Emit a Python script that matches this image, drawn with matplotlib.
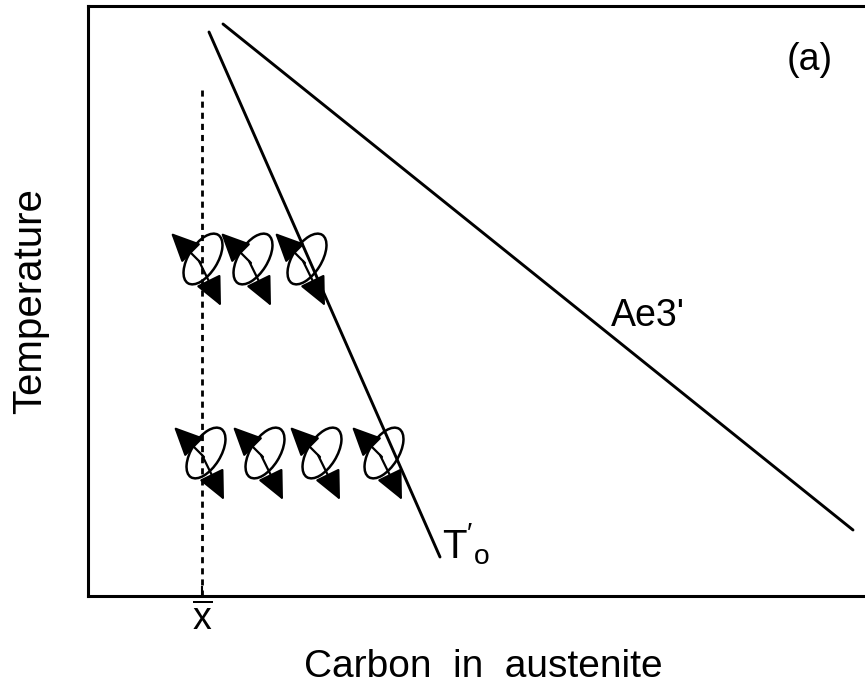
import matplotlib.pyplot as plt
import numpy as np
from matplotlib.patches import Ellipse

plt.rcParams['font.family'] = ['Liberation Sans', 'DejaVu Sans']
plt.rcParams['mathtext.fontset'] = 'custom'
plt.rcParams['mathtext.rm'] = 'Liberation Sans'
plt.rcParams['mathtext.it'] = 'Liberation Sans'

# schematic coordinates (carbon -> x, temperature -> y, y grows downward)
t0_x = [209, 440]
t0_y = [32, 557]
ae3_x = [223, 853]
ae3_y = [24, 530]
xbar = 202
xbar_top = 90

# nuclei / growth glyph centres
row1_x = [203, 253, 307]
row1_y = [259, 259, 259]
row2_x = [206, 265, 322, 384]
row2_y = [453, 453, 453, 453]

fig = plt.figure(figsize=(8.65, 6.88), dpi=100)
ax = fig.add_axes([88 / 865, 92 / 688, 790 / 865, 590 / 688])
ax.set_xlim(88, 878)
ax.set_ylim(596, 6)

ax.plot(t0_x, t0_y, color='black', lw=2.1, solid_capstyle='round')
ax.plot(ae3_x, ae3_y, color='black', lw=2.1, solid_capstyle='round')
ax.plot([xbar, xbar], [xbar_top, 596], color='black', lw=2.0,
        linestyle=(0, (2.2, 1.8)))

# ellipse with arrows for each nucleus
for cx, cy in zip(row1_x + row2_x, row1_y + row2_y):
    ax.add_patch(Ellipse((cx, cy), 29, 57, angle=32, fill=False,
                         edgecolor='black', lw=1.8))
    ax.annotate('', xy=(cx - 32, cy - 26), xytext=(cx - 2, cy + 4),
                arrowprops=dict(arrowstyle='-|>,head_length=0.45,head_width=0.21',
                                mutation_scale=40, color='black', lw=1.6,
                                shrinkA=0, shrinkB=0))
    ax.annotate('', xy=(cx + 18, cy + 47), xytext=(cx - 4, cy + 2),
                arrowprops=dict(arrowstyle='-|>,head_length=0.45,head_width=0.21',
                                mutation_scale=40, color='black', lw=1.6,
                                shrinkA=0, shrinkB=0))

ax.text(648, 316, "Ae3'", fontsize=27, ha='center', va='center')
ax.text(810, 60, '(a)', fontsize=27, ha='center', va='center')
ax.text(442, 558, r"$\mathrm{T}'_{\mathrm{o}}$", fontsize=29, ha='left', va='baseline')

ax.set_xticks([xbar])
ax.set_xticklabels([r'$\overline{\mathrm{x}}$'], fontsize=27)
ax.set_yticks([])
ax.tick_params(axis='x', direction='in', length=7, width=1.5, pad=4)
for s in ax.spines.values():
    s.set_linewidth(2.2)
ax.spines['right'].set_visible(False)

ax.set_xlabel('Carbon  in  austenite', fontsize=28, labelpad=8)
fig.text(30 / 865, 1 - 301 / 688, 'Temperature', fontsize=29,
         rotation=90, ha='center', va='center')

fig.savefig('out.png', dpi=100)
